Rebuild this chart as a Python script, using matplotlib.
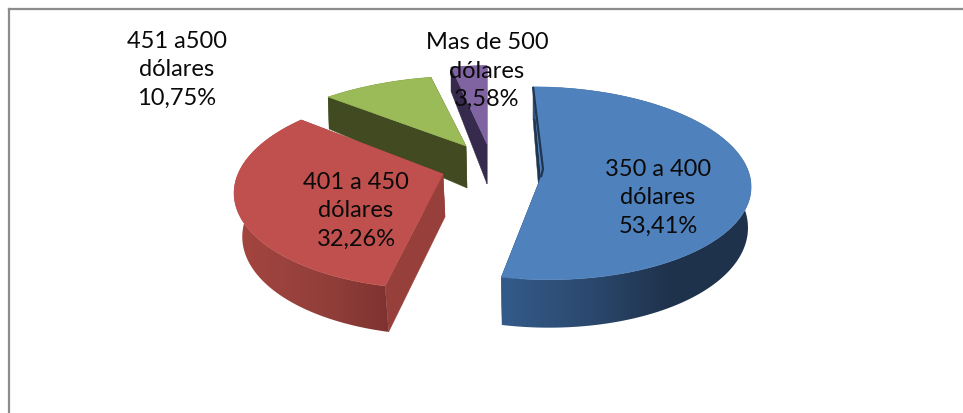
import numpy as np
import matplotlib
matplotlib.use("Agg")
import matplotlib.pyplot as plt
from matplotlib.patches import Polygon
from matplotlib.colors import LinearSegmentedColormap

# --- data ---
categories = ["350 a 400\ndólares", "401 a 450\ndólares", "451 a500\ndólares", "Mas de 500\ndólares"]
shares = [53.41, 32.26, 10.75, 3.58]
share_labels = ["53,41%", "32,26%", "10,75%", "3,58%"]

# --- styles ---
top_colors = ["#4f81bd", "#c0504d", "#9bbb59", "#8064a2"]
cut_colors = ["#1f3550", "#963f3b", "#414a21", "#362a4d"]
side_colors = [["#335b8a", "#2c4a70", "#1f334d", "#1e324c"],
               ["#a5453f", "#9a423d", "#8f3d39", "#7e3331"],
               ["#414a21", "#414a21"], ["#362a4d", "#362a4d"]]

# --- layout (per slice, pixels) ---
apex_x = [541, 443, 466, 487]
apex_y = [178, 175, 147, 145]
rad_x = [209, 205, 223, 229]
rad_y = [96, 96, 100, 112]
persp = [0.065, 0.166, 0.43, 0.43]
skew = [8, -6, 0, 0]
depth0 = [40, 43, 42, 40]
depth1 = [8, 3, 16, 16]
low_scale = [0.985, 0.97, 1.0, 1.0]
low_dx = [0, 2, 1, 0]
label_x = [658, 356, 177, 487]
label_y = [198, 211, 70, 71]

fig = plt.figure(figsize=(9.63, 4.14), dpi=100, facecolor="white")
ax = fig.add_axes([0, 0, 1, 1])
ax.set_xlim(0, 963)
ax.set_ylim(414, 0)
ax.set_aspect("auto")
ax.axis("off")


def surface(i, ang, lower=False):
    u, v = np.sin(ang), -np.cos(ang)
    w = 1 - persp[i] * v
    sc = low_scale[i] if lower else 1.0
    x = apex_x[i] + sc * rad_x[i] * u / w + skew[i] * v
    y = apex_y[i] + rad_y[i] * v / w
    if lower:
        x = x + low_dx[i]
        y = y + depth0[i] + depth1[i] * v
    return x, y


edges = np.radians(np.concatenate([[0], np.cumsum(shares)]) / np.sum(shares) * 360)
z = 2
for i in [3, 2, 1, 0]:
    a0, a1 = edges[i], edges[i + 1]
    arc = np.linspace(a0, a1, 200)
    tx, ty = surface(i, arc)
    bx, by = surface(i, arc, lower=True)
    ax0, ay0 = apex_x[i], apex_y[i]
    lx0, ly0 = ax0 + low_dx[i], ay0 + depth0[i]

    # radial cut faces
    for end in (0, -1):
        face = [(ax0, ay0), (tx[end], ty[end]), (bx[end], by[end]), (lx0, ly0)]
        ax.add_patch(Polygon(face, closed=True, fc=cut_colors[i], ec=cut_colors[i], lw=0.3, zorder=z))
    z += 1

    # curved outer wall with a horizontal gradient
    pts = np.column_stack([np.r_[tx, bx[::-1]], np.r_[ty, by[::-1]]])
    wall = Polygon(pts, closed=True, fc="none", ec="none", zorder=z)
    ax.add_patch(wall)
    cmap = LinearSegmentedColormap.from_list(f"s{i}", side_colors[i])
    xmin, xmax = pts[:, 0].min(), pts[:, 0].max()
    ymin, ymax = pts[:, 1].min(), pts[:, 1].max()
    grad = np.linspace(0, 1, 256).reshape(1, -1)
    im = ax.imshow(grad, extent=(xmin, xmax, ymax, ymin), aspect="auto", cmap=cmap,
                   vmin=0, vmax=1, zorder=z, interpolation="bilinear")
    im.set_clip_path(wall)
    z += 1

    # top face
    top = np.column_stack([np.r_[ax0, tx], np.r_[ay0, ty]])
    ax.add_patch(Polygon(top, closed=True, fc=top_colors[i], ec=top_colors[i], lw=0.4, zorder=z))
    z += 1

    if i == 0:
        # thin dark edge on the rear cut of the largest slice
        ax.plot([tx[0], 543, ax0], [ty[0], 170, ay0], color=cut_colors[0], lw=1.6, zorder=z,
                solid_capstyle="butt")
        z += 1

ax.set_xlim(0, 963)
ax.set_ylim(414, 0)

# chart frame: only top and left edges are visible
ax.plot([8.5, 963], [9.5, 9.5], color="#8c8c8c", lw=1.6, zorder=1)
ax.plot([8.5, 8.5], [9.5, 414], color="#8c8c8c", lw=1.6, zorder=1)

for i in range(4):
    ax.text(label_x[i], label_y[i], f"{categories[i]}\n{share_labels[i]}", ha="center", va="center",
            family="Lato", fontsize=17, color="#0a0a0a", linespacing=1.42, zorder=z + 5)

fig.savefig("out.png", dpi=100, facecolor="white")
